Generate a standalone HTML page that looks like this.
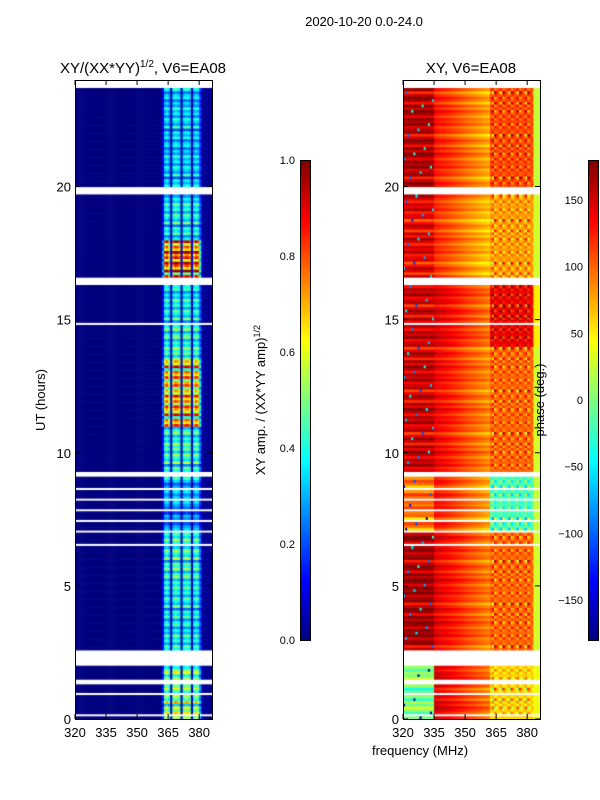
<!DOCTYPE html>
<html><head><meta charset="utf-8"><style>
body{margin:0;background:#fff;width:600px;height:800px;overflow:hidden;position:relative;font-family:"Liberation Sans",sans-serif}
canvas{position:absolute}
svg{position:absolute;left:0;top:0}
</style></head><body>
<canvas id="amp" width="137" height="639" style="left:75px;top:80px"></canvas>
<canvas id="ph" width="137" height="639" style="left:403px;top:80px"></canvas>
<canvas id="cb1" width="10" height="480" style="left:300px;top:160px"></canvas>
<canvas id="cb2" width="10" height="480" style="left:588px;top:160px"></canvas>
<svg id="ov" width="600" height="800" font-family="Liberation Sans, sans-serif"></svg>
<script>
// ---- data ----
const ampBlocks = [[0,0.55],[2.5,0.4],[5,0.45],[7,0.3],[9,0.45],[11,0.72],[13.5,0.45],[15,0.4],[16.3,0.82],[18,0.4],[19.7,0.4],[20,0.35]];
const ampChanProfile = [0.3,0.9,1.0,0.8,0.2,0.9,1.05,1.0,0.9,0.2,0.9,1.0,1.0,0.9,0.2,0.85,1.0,0.9,0.5,0.15,0.05,0.05,0.05,0.05];
const rowVar = [1.0,0.7,1.2,0.9,1.1,0.6,1.3,0.8,1.0,1.2,0.75,1.1,0.9,1.25,0.8,1.0,0.7,1.15];
const gaps = [[0.15,0.2],[0.9,1.0],[1.3,1.5],[2.0,2.6],[3.3,3.35],[4.1,4.15],[5.0,5.05],[6.5,6.6],[7.0,7.1],[7.4,7.5],[7.8,7.9],[8.2,8.3],[8.6,8.7],[9.1,9.3],[10.2,10.25],[12.1,12.15],[14.8,14.9],[16.0,16.05],[16.3,16.6],[17.2,17.25],[18.5,18.55],[19.5,19.55],[19.75,20.0],[21.9,21.95],[23.4,23.45],[23.75,24]];
// phase blocks: [startHour, left(320-335), mid-start, right(362-383), edge(383-386)]
const phaseBlocks = [[0,0,150,60,40],[2,165,145,100,30],[7,90,130,-20,25],[9.3,150,140,100,30],[14,150,150,140,50],[16.6,140,120,80,30],[19.7,160,130,110,25]];
const phaseVar = [0,25,-40,15,60,-20,35,-60,10,45,-15,-80,20,5,-30,50];
const ampTicks=[0,0.2,0.4,0.6,0.8,1.0], phTicks=[-150,-100,-50,0,50,100,150], utTicks=[0,5,10,15,20], fTicks=[320,335,350,365,380];
// ---- scales ----
const f0=320,fpx=137/66.2, H=639, hpx=639/24;
const xF=f=>(f-f0)*fpx, yH=h=>H-h*hpx;
function jet(v){v=Math.max(0,Math.min(1,v));const r=Math.min(1,Math.max(0,1.5-Math.abs(4*v-3))),g=Math.min(1,Math.max(0,1.5-Math.abs(4*v-2))),b=Math.min(1,Math.max(0,1.5-Math.abs(4*v-1)));return `rgb(${r*255|0},${g*255|0},${b*255|0})`}
const inGap=h=>gaps.some(g=>h>=g[0]&&h<g[1]);
const blk=(arr,h)=>{let b=arr[0];for(const a of arr)if(h>=a[0])b=a;return b};
const dt=0.1, df=1;
// amplitude
let c=document.getElementById('amp').getContext('2d');
for(let i=0;i<240;i++){const h=i*dt;if(inGap(h+dt/2)){continue}
 const lvl=blk(ampBlocks,h)[1], rv=rowVar[i%rowVar.length];
 for(let f=320;f<386;f+=df){let v;
  if(f<362)v=0.0;else{const p=ampChanProfile[f-362];v=lvl*p*rv;if(p<0.25)v=Math.max(0.02,v*0.5)}
  c.fillStyle=jet(v);c.fillRect(xF(f),yH(h+dt),xF(f+df)-xF(f)+0.6,hpx*dt+0.6);}}
// phase
c=document.getElementById('ph').getContext('2d');
for(let i=0;i<240;i++){const h=i*dt;if(inGap(h+dt/2))continue;
 const b=blk(phaseBlocks,h), pv=phaseVar[i%phaseVar.length];
 for(let f=320;f<386;f+=df){let p;
  if(f<335)p=b[1]+pv*0.5+((f*7+i*3)%41==0?-220:0);
  else if(f<362)p=b[2]-(f-335)*2.2+pv*0.3;
  else if(f<383)p=b[3]+pv*0.8*((f%4)-1.5)/1.5;
  else p=b[4];
  p=Math.max(-180,Math.min(180,p));
  c.fillStyle=jet((p+180)/360);c.fillRect(xF(f),yH(h+dt),xF(f+df)-xF(f)+0.6,hpx*dt+0.6);}}
// colorbars
for(const id of['cb1','cb2']){const x=document.getElementById(id).getContext('2d');for(let y=0;y<480;y++){x.fillStyle=jet(1-y/480);x.fillRect(0,y,10,1)}}
// ---- overlay ----
const S=document.getElementById('ov');let s='';
function ax(X,name){
 s+=`<rect x="${X+0.5}" y="80.5" width="137" height="639" fill="none" stroke="#000"/>`;
 for(const t of utTicks){const y=80+yH(t);s+=`<line x1="${X}" x2="${X+5}" y1="${y}" y2="${y}" stroke="#000"/><line x1="${X+137-5}" x2="${X+137}" y1="${y}" y2="${y}" stroke="#000"/><text x="${X-4}" y="${y+5}" font-size="13" text-anchor="end">${t}</text>`}
 for(const t of fTicks){const x=X+xF(t);s+=`<line x1="${x}" x2="${x}" y1="80" y2="85" stroke="#000"/><line x1="${x}" x2="${x}" y1="714" y2="719" stroke="#000"/><text x="${x}" y="737" font-size="13" text-anchor="middle">${t}</text>`}
}
ax(75,'amp-axes');ax(403,'phase-axes');
s+=`<rect x="300.5" y="160.5" width="10" height="480" fill="none" stroke="#000"/><rect x="588.5" y="160.5" width="10" height="480" fill="none" stroke="#000"/>`;
for(const t of ampTicks){const y=640-t*480;s+=`<text x="295" y="${y+4}" font-size="11" text-anchor="end">${t.toFixed(1)}</text>`}
for(const t of phTicks){const y=400-t*480/360;s+=`<text x="583" y="${y+4}" font-size="11" text-anchor="end">${t<0?'\u2212'+(-t):t}</text>`}
s+=`<text x="364" y="26" font-size="13" text-anchor="middle">2020-10-20 0.0-24.0</text>
<text x="143" y="73" font-size="15" text-anchor="middle">XY/(XX*YY)<tspan font-size="10" dy="-6">1/2</tspan><tspan dy="6">, V6=EA08</tspan></text>
<text x="471" y="73" font-size="15" text-anchor="middle">XY, V6=EA08</text>
<text x="420" y="755" font-size="13" text-anchor="middle">frequency (MHz)</text>
<text transform="translate(45,400) rotate(-90)" font-size="13" text-anchor="middle">UT (hours)</text>
<text transform="translate(265,400) rotate(-90)" font-size="13" text-anchor="middle">XY amp. / (XX*YY amp)<tspan font-size="9" dy="-5">1/2</tspan></text>
<text transform="translate(544,400) rotate(-90)" font-size="13" text-anchor="middle">phase (deg.)</text>`;
S.innerHTML=s;
</script>
</body></html>
